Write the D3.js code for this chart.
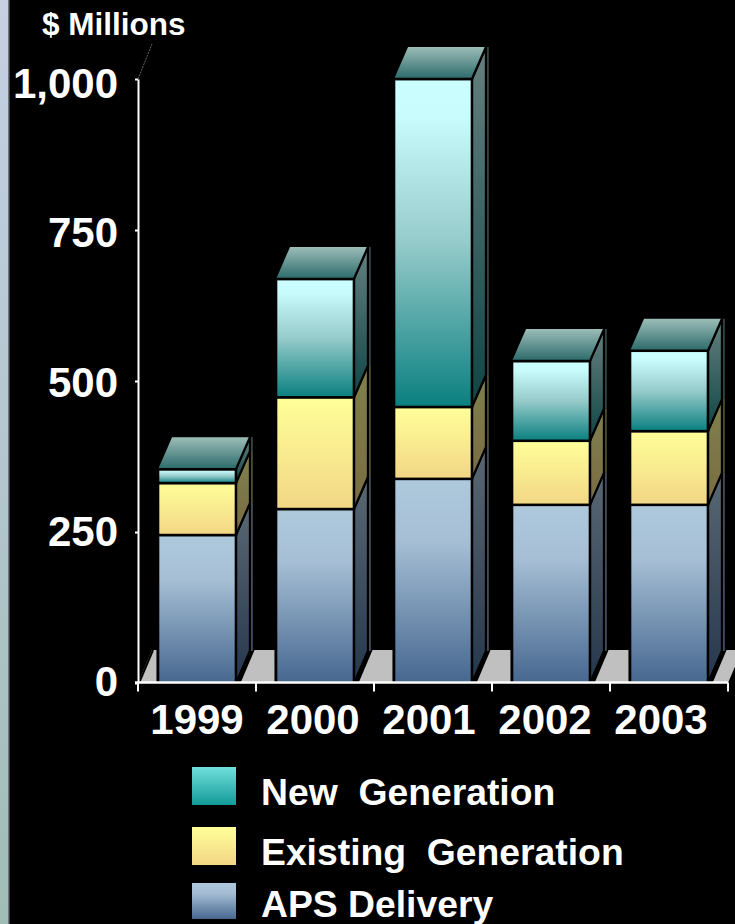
<!DOCTYPE html>
<html><head><meta charset="utf-8">
<script src="https://cdn.jsdelivr.net/npm/d3@7"></script>
<style>html,body{margin:0;padding:0;background:#000}svg{display:block}text{font-family:"Liberation Sans",Arial,sans-serif;font-weight:bold;fill:#fff}</style>
</head><body><svg id="c" width="735" height="924"></svg>
<script>
const years = ["1999","2000","2001","2002","2003"];
const apsDelivery = [245,288,338,295,295];
const existingGeneration = [86,185,119,106,122];
const newGeneration = [23,196,543,132,133];
const yTicks = [0,250,500,750,1000];
const legendLabels = ["New  Generation","Existing  Generation","APS Delivery"];
const seriesNames = ["aps","existing","fresh"];
const seriesValues = [apsDelivery,existingGeneration,newGeneration];

const svg = d3.select("#c");
const y = d3.scaleLinear().domain([0,1000]).range([683,79]);
const labelY = d3.scaleLinear().domain([0,1000]).range([680,82]);
const x = d3.scaleBand().domain(years).range([138,728]).paddingInner(0.34).paddingOuter(0.17);
const labelX = d3.scalePoint().domain(years).range([197,661]);
const dx = 14, dy = -32;

const defs = svg.append("defs");
function grad(id, stops){
  const g = defs.append("linearGradient").attr("id",id).attr("x1",0).attr("y1",0).attr("x2",0).attr("y2",1);
  stops.forEach(s=>g.append("stop").attr("offset",s[0]).attr("stop-color",s[1]));
}
grad("aps",[[0,"#aec8dc"],[0.3,"#a6bfd5"],[1,"#46678f"]]);
grad("existing",[[0,"#ffff99"],[1,"#f2d685"]]);
grad("fresh",[[0,"#ccffff"],[0.12,"#c8fbfb"],[0.5,"#95cbca"],[1,"#0a7f7f"]]);
grad("apsS",[[0,"#5a6874"],[1,"#25374c"]]);
grad("existingS",[[0,"#80804d"],[1,"#7a6c43"]]);
grad("freshS",[[0,"#668080"],[1,"#104545"]]);
grad("top",[[0,"#9cbdb8"],[1,"#2b6a6a"]]);
grad("lgFresh",[[0,"#70e0dc"],[1,"#129a98"]]);
grad("lgAps",[[0,"#aec8dc"],[0.3,"#a3bcd3"],[1,"#46678f"]]);
grad("strip",[[0,"#c5d0e2"],[0.5,"#b3c6cf"],[1,"#a0bdb5"]]);

svg.append("rect").attr("x",0).attr("y",0).attr("width",9).attr("height",924).attr("fill","url(#strip)");
svg.append("rect").attr("x",8).attr("y",0).attr("width",1.5).attr("height",924).attr("fill","#6f7a80");

// floor
const floorTop = y(0)+dy-1;
svg.append("path")
  .attr("d",`M${x.range()[0]},${y(0)}L${x.range()[0]+dx},${floorTop}L${x.range()[1]+dx},${floorTop}L${x.range()[1]},${y(0)}Z`)
  .attr("fill","#c0c0c0");
svg.append("line").attr("x1",x.range()[0]+1).attr("y1",y(0)).attr("x2",x.range()[0]+dx+1).attr("y2",floorTop).attr("stroke","#000").attr("stroke-width",2);

// bars
const stack = years.map((yr,i)=>{let b=0;return seriesNames.map((s,j)=>{const v=seriesValues[j][i];const r={yr,s,y0:b,y1:b+v};b+=v;return r;});});
const barG = svg.append("g").selectAll("g").data(stack).join("g");
barG.each(function(col){
  const g = d3.select(this);
  const bx = x(col[0].yr), w = x.bandwidth();
  g.append("path").attr("d",`M${bx},${y(0)}L${bx},${floorTop}L${bx+w+dx+3},${floorTop}L${bx+w+3},${y(0)}Z`).attr("fill","#000").attr("stroke","#000").attr("stroke-width",3);
  col.forEach(d=>{
    const t=y(d.y1), b=y(d.y0);
    g.append("line").attr("x1",bx+w+dx+2).attr("x2",bx+w+dx+2).attr("y1",t+dy).attr("y2",b+dy)
      .attr("stroke",d.s==="aps"?"#7d8ea3":d.s==="existing"?"#8f8f58":"#5f7d7d").attr("stroke-width",1);
    g.append("path").attr("d",`M${bx+w},${b}L${bx+w+dx},${b+dy}L${bx+w+dx},${t+dy}L${bx+w},${t}Z`)
      .attr("fill",`url(#${d.s}S)`).attr("stroke","#000").attr("stroke-width",2.2);
    g.append("rect").attr("x",bx).attr("y",t).attr("width",w).attr("height",b-t)
      .attr("fill",`url(#${d.s})`).attr("stroke","#000").attr("stroke-width",2.5);
  });
  const tt=y(col[2].y1);
  g.append("path").attr("d",`M${bx},${tt}L${bx+dx},${tt+dy}L${bx+w+dx},${tt+dy}L${bx+w},${tt}Z`)
    .attr("fill","url(#top)");
  g.append("line").attr("x1",bx+w).attr("y1",tt).attr("x2",bx+w+dx).attr("y2",tt+dy).attr("stroke","#000").attr("stroke-width",2.2);
  g.append("line").attr("x1",bx).attr("y1",tt).attr("x2",bx+w).attr("y2",tt).attr("stroke","#000").attr("stroke-width",2.5);
});

// axes
const axY = svg.append("g").attr("transform","translate(138,0)")
  .call(d3.axisLeft(y).tickValues(yTicks).tickSizeInner(3).tickSizeOuter(0).tickPadding(0).tickFormat(d3.format(",")));
axY.select(".domain").attr("stroke","#fff").attr("stroke-width",2);
axY.selectAll(".tick line").attr("stroke","#fff").attr("stroke-width",2);
axY.selectAll("text").attr("x",-20).attr("y",d=>labelY(d)-y(d)).attr("dy","0.36em").style("font-size","42px").attr("fill","#fff");

const axX = svg.append("g").attr("transform","translate(0,682.5)");
axX.append("line").attr("x1",135).attr("x2",728).attr("stroke","#fff").attr("stroke-width",2.4);
axX.selectAll("line.t").data(d3.range(years.length+1)).join("line").attr("class","t")
  .attr("x1",i=>138+i*x.step()).attr("x2",i=>138+i*x.step()).attr("y1",0).attr("y2",9)
  .attr("stroke","#fff").attr("stroke-width",2);
axX.selectAll("text").data(years).join("text")
  .attr("x",d=>labelX(d)).attr("y",51).attr("text-anchor","middle").style("font-size","42px").text(d=>d);

// depth line and unit title
svg.append("line").attr("x1",138).attr("y1",79).attr("x2",152).attr("y2",44).attr("stroke","#666").attr("stroke-width",1).attr("stroke-dasharray","2 1");
svg.append("text").attr("x",42).attr("y",35).style("font-size","31.5px").text("$ Millions");

// legend
const lg = svg.append("g");
const lgY=[767,827,883], lgH=[38,38,36], lgT=[805,865,917], lgF=["lgFresh","existing","lgAps"];
legendLabels.forEach((l,i)=>{
  lg.append("rect").attr("x",192).attr("y",lgY[i]).attr("width",44).attr("height",lgH[i]).attr("fill",`url(#${lgF[i]})`);
  lg.append("text").attr("x",261).attr("y",lgT[i]).style("font-size","37.3px").style("white-space","pre").attr("xml:space","preserve").text(l);
});
</script></body></html>
